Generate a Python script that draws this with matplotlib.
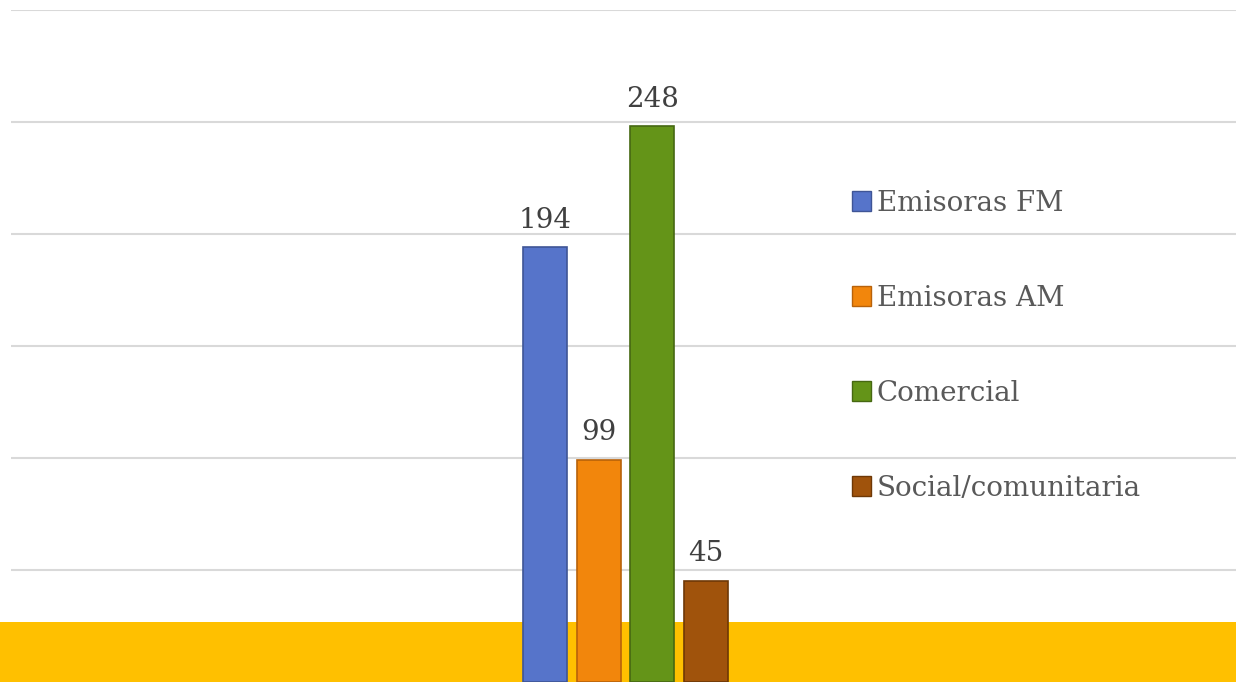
import matplotlib.pyplot as plt
from matplotlib.patches import Patch

# Data
series = ['Emisoras FM', 'Emisoras AM', 'Comercial', 'Social/comunitaria']
values = [194, 99, 248, 45]
colors = ['#5674CA', '#F2860C', '#649418', '#A0530C']
edges = ['#3F5596', '#B8620A', '#466812', '#6E3806']

plt.rcParams['font.family'] = ['DejaVu Serif']

fig = plt.figure(figsize=(12.36, 6.82), dpi=100)
ax = fig.add_axes([11 / 1236, 0, 1 - 11 / 1236, (682 - 10) / 682])

step = 0.0437
width = 0.0359
for i, (name, val) in enumerate(zip(series, values)):
    x = (i - 1.5) * step + 0.0016
    ax.bar(x, val, width=width, color=colors[i], edgecolor=edges[i],
           linewidth=1.2, zorder=3)
    ax.annotate(str(val), (x, val), xytext=(0, 10), textcoords='offset points',
                ha='center', va='bottom', fontsize=20, color='#404040')

# yellow band at the bottom, across the whole width
ax.axhspan(0, 27, xmin=-11 / 1225, xmax=1, color='#FFC000', zorder=2, lw=0,
           clip_on=False)

ax.set_xlim(-0.5, 0.5)
ax.set_ylim(0, 300)
ax.set_yticks(range(0, 301, 50))
ax.yaxis.grid(True, color='#D9D9D9', linewidth=1.5, zorder=0)
ax.set_axisbelow(True)
ax.tick_params(left=False, bottom=False, labelleft=False, labelbottom=False)
for s in ax.spines.values():
    s.set_visible(False)

handles = [Patch(facecolor=c, edgecolor=e, lw=1) for c, e in zip(colors, edges)]
leg = ax.legend(handles, series, loc='upper left', bbox_to_anchor=(0.666, 0.77),
                frameon=False, fontsize=20, handlelength=0.7, handleheight=0.7,
                handletextpad=0.2, labelspacing=2.45, labelcolor='#595959')

fig.savefig('out.png', dpi=100)
